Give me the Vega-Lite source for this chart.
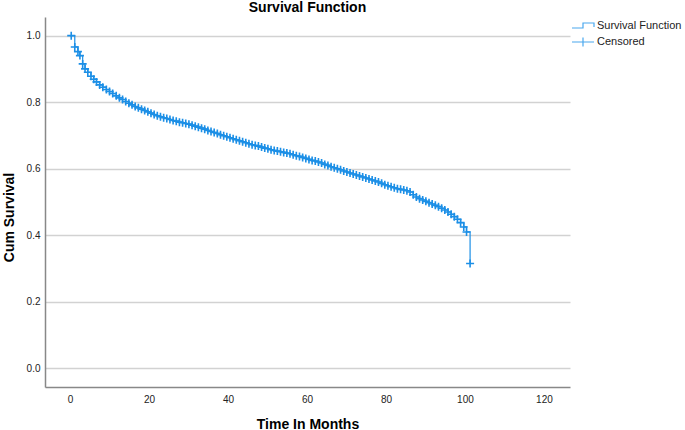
{
  "$schema": "https://vega.github.io/schema/vega-lite/v6.json",
  "width": 525,
  "height": 370,
  "autosize": {"type": "none"},
  "padding": {"left": 45, "top": 17, "right": 115, "bottom": 43},
  "background": "white",
  "title": {"text": "Survival Function", "fontSize": 14, "font": "Liberation Sans", "fontWeight": "bold", "color": "#000", "anchor": "middle", "offset": 2},
  "config": {
    "view": {"stroke": null},
    "axis": {"labelFont": "Liberation Sans", "titleFont": "Liberation Sans", "labelColor": "#222", "titleColor": "#000", "labelFontSize": 10, "titleFontSize": 14, "titleFontWeight": "bold", "ticks": false, "domainColor": "#888", "domainWidth": 1.5, "gridColor": "#d2d2d2", "gridWidth": 1.3}
  },
  "data": {"values": [
    {"t": 0, "s": 1.0, "k": "start"},
    {"t": 0.3, "s": 1.0, "k": "Censored"},
    {"t": 1.2, "s": 0.966, "k": "Censored"},
    {"t": 2.0, "s": 0.952, "k": "Censored"},
    {"t": 2.5, "s": 0.94, "k": "Censored"},
    {"t": 3.2, "s": 0.915, "k": "Censored"},
    {"t": 3.8, "s": 0.9, "k": "Censored"},
    {"t": 4.5, "s": 0.89, "k": "Censored"},
    {"t": 5.3, "s": 0.878, "k": "Censored"},
    {"t": 6.0, "s": 0.869, "k": "Censored"},
    {"t": 6.7, "s": 0.861, "k": "Censored"},
    {"t": 7.5, "s": 0.852, "k": "Censored"},
    {"t": 8.3, "s": 0.845, "k": "Censored"},
    {"t": 9.2, "s": 0.838, "k": "Censored"},
    {"t": 10.0, "s": 0.832, "k": "Censored"},
    {"t": 10.8, "s": 0.826, "k": "Censored"},
    {"t": 11.7, "s": 0.819, "k": "Censored"},
    {"t": 12.5, "s": 0.813, "k": "Censored"},
    {"t": 13.3, "s": 0.808, "k": "Censored"},
    {"t": 14.1, "s": 0.802, "k": "Censored"},
    {"t": 14.9, "s": 0.797, "k": "Censored"},
    {"t": 15.7, "s": 0.792, "k": "Censored"},
    {"t": 16.5, "s": 0.787, "k": "Censored"},
    {"t": 17.3, "s": 0.783, "k": "Censored"},
    {"t": 18.1, "s": 0.779, "k": "Censored"},
    {"t": 18.9, "s": 0.775, "k": "Censored"},
    {"t": 19.7, "s": 0.771, "k": "Censored"},
    {"t": 20.5, "s": 0.767, "k": "Censored"},
    {"t": 21.3, "s": 0.763, "k": "Censored"},
    {"t": 22.1, "s": 0.759, "k": "Censored"},
    {"t": 22.9, "s": 0.756, "k": "Censored"},
    {"t": 23.7, "s": 0.753, "k": "Censored"},
    {"t": 24.5, "s": 0.751, "k": "Censored"},
    {"t": 25.3, "s": 0.748, "k": "Censored"},
    {"t": 26.1, "s": 0.745, "k": "Censored"},
    {"t": 26.9, "s": 0.743, "k": "Censored"},
    {"t": 27.7, "s": 0.74, "k": "Censored"},
    {"t": 28.5, "s": 0.738, "k": "Censored"},
    {"t": 29.3, "s": 0.736, "k": "Censored"},
    {"t": 30.1, "s": 0.734, "k": "Censored"},
    {"t": 30.9, "s": 0.731, "k": "Censored"},
    {"t": 31.7, "s": 0.728, "k": "Censored"},
    {"t": 32.5, "s": 0.725, "k": "Censored"},
    {"t": 33.3, "s": 0.722, "k": "Censored"},
    {"t": 34.1, "s": 0.719, "k": "Censored"},
    {"t": 34.9, "s": 0.715, "k": "Censored"},
    {"t": 35.7, "s": 0.712, "k": "Censored"},
    {"t": 36.5, "s": 0.709, "k": "Censored"},
    {"t": 37.3, "s": 0.706, "k": "Censored"},
    {"t": 38.1, "s": 0.702, "k": "Censored"},
    {"t": 38.9, "s": 0.699, "k": "Censored"},
    {"t": 39.7, "s": 0.696, "k": "Censored"},
    {"t": 40.5, "s": 0.693, "k": "Censored"},
    {"t": 41.3, "s": 0.69, "k": "Censored"},
    {"t": 42.1, "s": 0.687, "k": "Censored"},
    {"t": 42.9, "s": 0.684, "k": "Censored"},
    {"t": 43.7, "s": 0.681, "k": "Censored"},
    {"t": 44.5, "s": 0.678, "k": "Censored"},
    {"t": 45.3, "s": 0.675, "k": "Censored"},
    {"t": 46.1, "s": 0.672, "k": "Censored"},
    {"t": 46.9, "s": 0.67, "k": "Censored"},
    {"t": 47.7, "s": 0.668, "k": "Censored"},
    {"t": 48.5, "s": 0.665, "k": "Censored"},
    {"t": 49.3, "s": 0.662, "k": "Censored"},
    {"t": 50.1, "s": 0.66, "k": "Censored"},
    {"t": 50.9, "s": 0.657, "k": "Censored"},
    {"t": 51.7, "s": 0.655, "k": "Censored"},
    {"t": 52.5, "s": 0.653, "k": "Censored"},
    {"t": 53.3, "s": 0.651, "k": "Censored"},
    {"t": 54.1, "s": 0.649, "k": "Censored"},
    {"t": 54.9, "s": 0.647, "k": "Censored"},
    {"t": 55.7, "s": 0.645, "k": "Censored"},
    {"t": 56.5, "s": 0.642, "k": "Censored"},
    {"t": 57.3, "s": 0.639, "k": "Censored"},
    {"t": 58.1, "s": 0.637, "k": "Censored"},
    {"t": 58.9, "s": 0.634, "k": "Censored"},
    {"t": 59.7, "s": 0.631, "k": "Censored"},
    {"t": 60.5, "s": 0.628, "k": "Censored"},
    {"t": 61.3, "s": 0.625, "k": "Censored"},
    {"t": 62.1, "s": 0.623, "k": "Censored"},
    {"t": 62.9, "s": 0.62, "k": "Censored"},
    {"t": 63.7, "s": 0.617, "k": "Censored"},
    {"t": 64.5, "s": 0.613, "k": "Censored"},
    {"t": 65.3, "s": 0.61, "k": "Censored"},
    {"t": 66.1, "s": 0.606, "k": "Censored"},
    {"t": 66.9, "s": 0.603, "k": "Censored"},
    {"t": 67.7, "s": 0.6, "k": "Censored"},
    {"t": 68.5, "s": 0.597, "k": "Censored"},
    {"t": 69.3, "s": 0.593, "k": "Censored"},
    {"t": 70.1, "s": 0.59, "k": "Censored"},
    {"t": 70.9, "s": 0.587, "k": "Censored"},
    {"t": 71.7, "s": 0.584, "k": "Censored"},
    {"t": 72.5, "s": 0.581, "k": "Censored"},
    {"t": 73.3, "s": 0.578, "k": "Censored"},
    {"t": 74.1, "s": 0.575, "k": "Censored"},
    {"t": 74.9, "s": 0.572, "k": "Censored"},
    {"t": 75.7, "s": 0.569, "k": "Censored"},
    {"t": 76.5, "s": 0.566, "k": "Censored"},
    {"t": 77.3, "s": 0.563, "k": "Censored"},
    {"t": 78.1, "s": 0.56, "k": "Censored"},
    {"t": 78.9, "s": 0.556, "k": "Censored"},
    {"t": 79.7, "s": 0.552, "k": "Censored"},
    {"t": 80.5, "s": 0.549, "k": "Censored"},
    {"t": 81.3, "s": 0.546, "k": "Censored"},
    {"t": 82.1, "s": 0.543, "k": "Censored"},
    {"t": 82.9, "s": 0.54, "k": "Censored"},
    {"t": 83.7, "s": 0.538, "k": "Censored"},
    {"t": 84.5, "s": 0.536, "k": "Censored"},
    {"t": 85.3, "s": 0.534, "k": "Censored"},
    {"t": 86.1, "s": 0.53, "k": "Censored"},
    {"t": 86.9, "s": 0.522, "k": "Censored"},
    {"t": 87.7, "s": 0.515, "k": "Censored"},
    {"t": 88.5, "s": 0.51, "k": "Censored"},
    {"t": 89.3, "s": 0.506, "k": "Censored"},
    {"t": 90.1, "s": 0.502, "k": "Censored"},
    {"t": 90.9, "s": 0.498, "k": "Censored"},
    {"t": 91.7, "s": 0.494, "k": "Censored"},
    {"t": 92.5, "s": 0.49, "k": "Censored"},
    {"t": 93.3, "s": 0.486, "k": "Censored"},
    {"t": 94.1, "s": 0.481, "k": "Censored"},
    {"t": 94.9, "s": 0.476, "k": "Censored"},
    {"t": 95.7, "s": 0.47, "k": "Censored"},
    {"t": 96.5, "s": 0.463, "k": "Censored"},
    {"t": 97.3, "s": 0.456, "k": "Censored"},
    {"t": 98.1, "s": 0.448, "k": "Censored"},
    {"t": 98.9, "s": 0.438, "k": "Censored"},
    {"t": 99.7, "s": 0.425, "k": "Censored"},
    {"t": 100.4, "s": 0.41, "k": "Censored"},
    {"t": 101.3, "s": 0.315, "k": "Censored"}
  ]},
  "encoding": {
    "x": {"field": "t", "type": "quantitative", "scale": {"domain": [-6.34, 126.6], "nice": false, "zero": false},
      "axis": {"title": "Time In Months", "values": [0, 20, 40, 60, 80, 100, 120], "grid": false, "labelPadding": 7, "titlePadding": 13}},
    "y": {"field": "s", "type": "quantitative", "scale": {"domain": [-0.056, 1.056], "nice": false, "zero": false},
      "axis": {"title": "Cum Survival", "values": [0, 0.2, 0.4, 0.6, 0.8, 1.0], "format": ".1f", "labelPadding": 5, "titlePadding": 10, "titleY": 200}}
  },
  "layer": [
    {"mark": {"type": "line", "interpolate": "step-after", "color": "#1c8fe6", "strokeWidth": 1.2}},
    {
      "transform": [{"filter": "datum.k === 'Censored'"}],
      "mark": {"type": "point", "filled": false, "size": 64, "strokeWidth": 1.6, "opacity": 1, "color": "#1c8fe6", "shape": "M-1,0H1M0,-1V1"}
    },
    {
      "transform": [{"filter": "datum.k === 'Censored'"}],
      "mark": {"type": "point", "filled": false, "size": 0, "strokeWidth": 0, "color": "#4aa8ee"},
      "encoding": {
        "shape": {"field": "k", "type": "nominal",
          "scale": {"domain": ["Survival Function", "Censored"], "range": ["M-1,0.4H1.2V-0.6H3.4V0.2", "M-1,0H3.4M1.2,-0.9V0.9"]},
          "legend": {"title": null, "orient": "none", "legendX": 526, "legendY": 3, "symbolSize": 100, "symbolStrokeWidth": 1.2, "symbolStrokeColor": "#4aa8ee", "symbolFillColor": "transparent", "symbolOpacity": 1, "labelFont": "Liberation Sans", "labelFontSize": 11, "labelColor": "#222", "labelOffset": 14, "rowPadding": 4, "padding": 0}
        }
      }
    }
  ]
}
